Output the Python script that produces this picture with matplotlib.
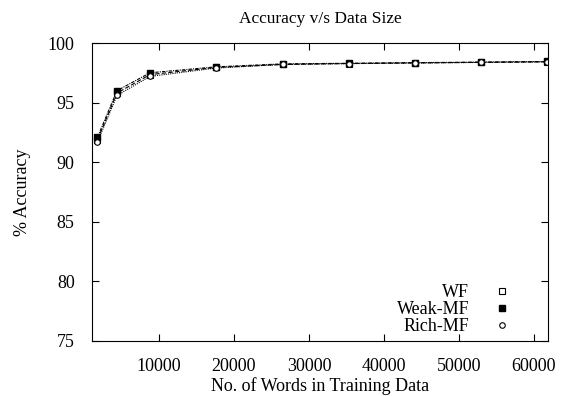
import matplotlib
matplotlib.use('Agg')
import matplotlib.pyplot as plt

plt.rcParams['font.family'] = ['Liberation Serif', 'DejaVu Serif']

words = [1800, 4400, 8800, 17600, 26500, 35300, 44100, 53000, 61800]
acc_wf = [91.9, 95.8, 97.35, 97.95, 98.2, 98.28, 98.33, 98.38, 98.42]
acc_weak = [92.1, 96.0, 97.5, 98.0, 98.25, 98.3, 98.35, 98.4, 98.45]
acc_rich = [91.7, 95.6, 97.2, 97.9, 98.2, 98.27, 98.32, 98.37, 98.42]

fig = plt.figure(figsize=(5.69, 3.96), dpi=100)
ax = fig.add_axes([92/569, 1 - 341/396, (548-92)/569, (341-43)/396])

ax.plot(words, acc_wf, color='black', linewidth=0.8, linestyle=(0, (4, 2)),
        marker='s', markersize=4, markerfacecolor='white', markeredgewidth=0.8, label='WF')
ax.plot(words, acc_weak, color='black', linewidth=0.8, linestyle=(0, (3, 1, 1, 1)),
        marker='s', markersize=5, markerfacecolor='black', label='Weak-MF')
ax.plot(words, acc_rich, color='black', linewidth=0.8, linestyle=(0, (1, 1)),
        marker='o', markersize=4, markerfacecolor='white', markeredgewidth=0.8, label='Rich-MF')

ax.set_xlim(1067, 61870)
ax.set_ylim(75, 100)
ax.set_xticks([10000, 20000, 30000, 40000, 50000, 60000])
ax.set_yticks([75, 80, 85, 90, 95, 100])
ax.tick_params(direction='in', top=True, right=True, labelsize=13, length=5, pad=12.5)

ax.set_title('Accuracy v/s Data Size', fontsize=12.5, pad=14.5)
ax.set_xlabel('No. of Words in Training Data', fontsize=13, labelpad=1)
ax.set_ylabel('% Accuracy', fontsize=13, labelpad=12)

leg = ax.legend(loc='lower right', bbox_to_anchor=(0.9386, 0.019), frameon=False,
                markerfirst=False, fontsize=13, handlelength=2.0, labelspacing=0.0,
                borderaxespad=0, borderpad=0)
for h in leg.legend_handles:
    h.set_linestyle('none')

fig.savefig('out.png', dpi=100)
